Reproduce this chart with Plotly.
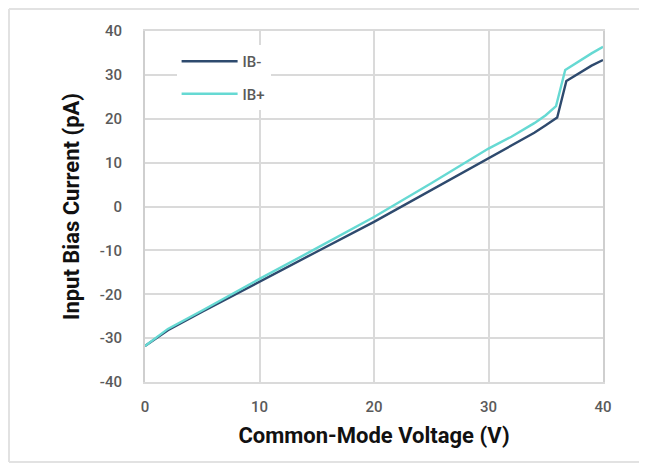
import plotly.graph_objects as go

# Data
vcm_neg = [0, 2, 5, 10, 15, 20, 25, 30, 32, 34, 35, 36, 36.8, 37, 38, 39, 40]
ib_neg = [-31.8, -28.2, -24.0, -17.1, -10.3, -3.5, 3.7, 11.0, 13.8, 16.8, 18.5, 20.3, 28.6, 28.9, 30.6, 32.1, 33.4]

vcm_pos = [0, 2, 5, 10, 15, 20, 25, 30, 32, 34, 35, 35.9, 36.7, 37, 38, 39, 40]
ib_pos = [-31.8, -27.9, -23.7, -16.5, -9.5, -2.4, 5.3, 13.2, 15.9, 19.0, 20.8, 22.9, 31.1, 31.6, 33.2, 34.9, 36.4]

x_ticks = [0, 10, 20, 30, 40]
x_labels = ["0", "10", "20", "30", "40"]
y_ticks = [-40, -30, -20, -10, 0, 10, 20, 30, 40]
y_labels = ["-40", "-30", "-20", "-10", "0", "10", "20", "30", "40"]

fig = go.Figure()
fig.add_trace(go.Scatter(x=vcm_neg, y=ib_neg, mode="lines", name="IB-",
                         legendgroup="a",
                         line=dict(color="#2E4A6E", width=2.4)))
fig.add_trace(go.Scatter(x=vcm_pos, y=ib_pos, mode="lines", name="IB+",
                         legendgroup="b",
                         line=dict(color="#66D9D3", width=2.4)))

grid = "#DADADA"
tickfont = dict(family="Roboto", size=15, color="#5A5A5A", weight=500)
titlefont = dict(family="Roboto", size=22, color="#111111", weight="bold")

fig.update_layout(
    width=647, height=464,
    margin=dict(l=137, r=52, t=23, b=90, autoexpand=False),
    paper_bgcolor="white", plot_bgcolor="white",
    showlegend=True,
    legend=dict(x=0.069, y=0.96, xanchor="left", yanchor="top",
                bgcolor="white", font=dict(family="Roboto", size=15, color="#5A5A5A", weight=500),
                tracegroupgap=10, itemwidth=56),
    xaxis=dict(range=[0, 40], tickvals=x_ticks, ticktext=x_labels, showgrid=True, gridcolor=grid, gridwidth=2,
               showline=True, linecolor=grid, linewidth=2, mirror=True, zeroline=False,
               tickfont=tickfont, ticklabelstandoff=10,
               title=dict(text="Common-Mode Voltage (V)", font=titlefont, standoff=13)),
    yaxis=dict(range=[-40, 40], tickvals=y_ticks, ticktext=y_labels, showgrid=True, gridcolor=grid, gridwidth=2,
               showline=True, linecolor="#CFCFCF", linewidth=2, mirror=True, zeroline=False,
               tickfont=tickfont, ticklabelstandoff=18,
               title=dict(text="Input Bias Current (pA)", font=titlefont, standoff=14)),
)

# outer frame of the figure image
frame = "#E2E2E2"
fig.add_shape(type="line", xref="paper", yref="paper", x0=-0.297, x1=-0.297, y0=-0.228, y1=1.063,
              line=dict(color=frame, width=2))
fig.add_shape(type="line", xref="paper", yref="paper", x0=-0.297, x1=1.12, y0=1.063, y1=1.063,
              line=dict(color=frame, width=2))
fig.add_shape(type="line", xref="paper", yref="paper", x0=-0.297, x1=1.12, y0=-0.228, y1=-0.228,
              line=dict(color=frame, width=2))

fig.write_html("out.html")
